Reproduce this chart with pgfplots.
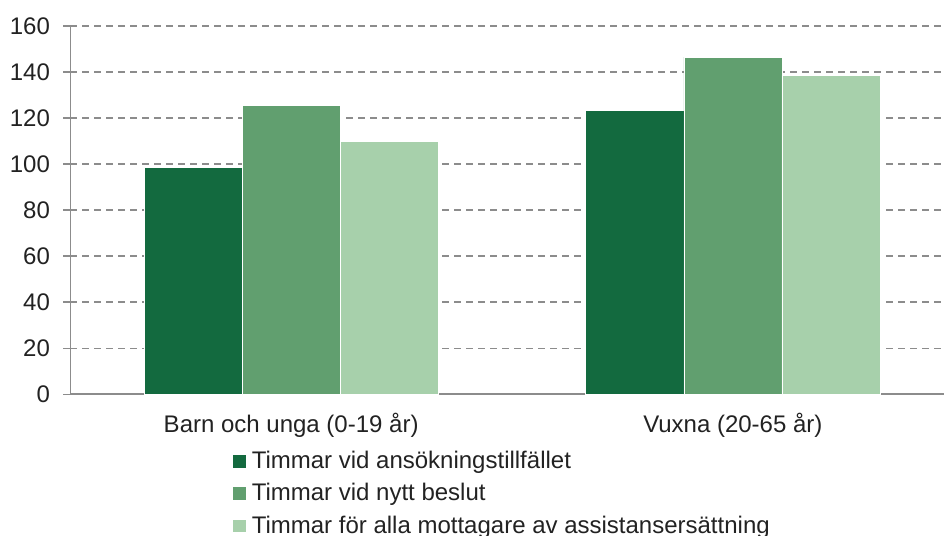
\documentclass[border=0pt]{standalone}
\usepackage{fontspec}
\setmainfont{Liberation Sans}
\usepackage{pgfplots}
\pgfplotsset{compat=1.18}
\definecolor{gDark}{HTML}{136A3F}
\definecolor{gMid}{HTML}{619F6F}
\definecolor{gLight}{HTML}{A7D0AB}
\definecolor{axgray}{HTML}{8C8C8C}
\definecolor{txt}{HTML}{222222}
\begin{document}
\begin{tikzpicture}
  \begin{axis}[
      scale only axis,
      width=436.85pt, height=184.15pt,
      ybar=0pt, bar width=0.222,
      xmin=-0.5, xmax=1.478,
      ymin=0, ymax=160,
      xtick={0,1},
      xticklabels={Barn och unga (0-19 år), Vuxna (20-65 år)},
      ytick={0,20,...,160},
      axis x line=bottom, axis y line=left,
      axis line style={-, draw=axgray, line width=0.75pt},
      x axis line style={line width=1pt},
      major x tick style={draw=none},
      ytick style={draw=axgray, line width=0.75pt},
      tick align=outside, major tick length=3.5pt,
      ymajorgrids,
      grid style={draw=axgray, line width=0.75pt, dash pattern=on 3.5pt off 2.5pt},
      /pgf/number format/assume math mode=true,
      ticklabel style={text=txt, font=\fontsize{12}{14}\selectfont},
      yticklabel style={anchor=east, inner sep=0pt, xshift=-6.5pt},
      xticklabel style={anchor=base, yshift=-15.5pt},
      legend style={at={(axis description cs:0.1862,-0.152)}, anchor=north west,
        draw=none, fill=none, inner sep=0pt, row sep=7.1pt,
        font=\fontsize{12}{14}\selectfont, text=txt,
        nodes={text height=9pt, text depth=0pt, inner sep=0pt},
        /tikz/every odd column/.style={column sep=3pt}},
      legend cell align=left,
      legend image code/.code={\fill[#1, draw=none] (0pt,-4pt) rectangle (6.2pt,2.2pt);},
    ]
    \addplot[fill=gDark, draw=white, line width=0.3pt] coordinates {(0,98.4) (1,123.5)};
    \addplot[fill=gMid, draw=white, line width=0.3pt] coordinates {(0,125.5) (1,146.5)};
    \addplot[fill=gLight, draw=white, line width=0.3pt] coordinates {(0,109.9) (1,138.6)};
    \legend{Timmar vid ansökningstillfället, Timmar vid nytt beslut,
      Timmar för alla mottagare av assistansersättning}
    \coordinate (bl) at (rel axis cs:0,0);
    \coordinate (tr) at (rel axis cs:1,1);
  \end{axis}
  \pgfresetboundingbox
  \path[use as bounding box] ([xshift=-35.15pt,yshift=-70.85pt]bl) rectangle ([yshift=13pt]tr);
\end{tikzpicture}
\end{document}
